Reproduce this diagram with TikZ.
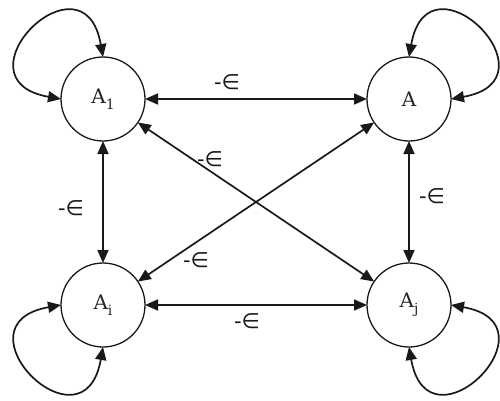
\documentclass[tikz,border=0pt]{standalone}
\usepackage{fontspec}
\usetikzlibrary{arrows.meta}
\newfontfamily\dejavu{DejaVu Sans}
\newfontfamily\nodefont{DejaVu Serif}
\newcommand\lowsub[1]{\raisebox{-6pt}{\fontsize{14}{15}\selectfont #1}}
\begin{document}
\begin{tikzpicture}[x=1pt,y=1pt,
  state/.style={circle,draw=black!90,line width=1.3pt,minimum size=84pt,inner sep=0pt,outer sep=0pt,fill=white,font=\nodefont\fontsize{20}{24}\selectfont,text=black!85},
  conn/.style={line width=1.7pt,draw=black!90,{Triangle[length=13pt,width=11pt]}-{Triangle[length=13pt,width=11pt]}},
  lbl/.style={font=\dejavu\fontsize{21}{24}\selectfont,text=black!90,inner sep=0pt}]
\useasboundingbox (0,0) rectangle (500,400);
\node[state] (A1) at (103,301) {A\lowsub{1}};
\node[state] (A)  at (409,301) {A};
\node[state] (Ai) at (103,95)  {A\lowsub{i}};
\node[state] (Aj) at (409,95)  {A\lowsub{j}};
% connectors
\draw[conn] (A1) -- (A);
\draw[conn] (Ai) -- (Aj);
\draw[conn] (A1) -- (Ai);
\draw[conn] (A) -- (Aj);
\draw[conn] (A1) -- (Aj);
\draw[conn] (Ai) -- (A);
% loops
\draw[conn] (A1.north) to[out=100,in=170,looseness=4.8] (A1.west);
\draw[conn] (A.north) to[out=80,in=10,looseness=4.8] (A.east);
\draw[conn] (Ai.west) to[out=190,in=260,looseness=4.8] (Ai.south);
\draw[conn] (Aj.east) to[out=-10,in=280,looseness=4.8] (Aj.south);
% labels
\node[lbl] (l1) at (227,318) {-∈};
\node[lbl] (l2) at (210,241) {-∈};
\node[lbl] (l3) at (71,192) {-∈};
\node[lbl] (l4) at (432,204) {-∈};
\node[lbl] (l5) at (196,140) {-∈};
\node[lbl] (l6) at (247,79) {-∈};
\end{tikzpicture}
\end{document}
